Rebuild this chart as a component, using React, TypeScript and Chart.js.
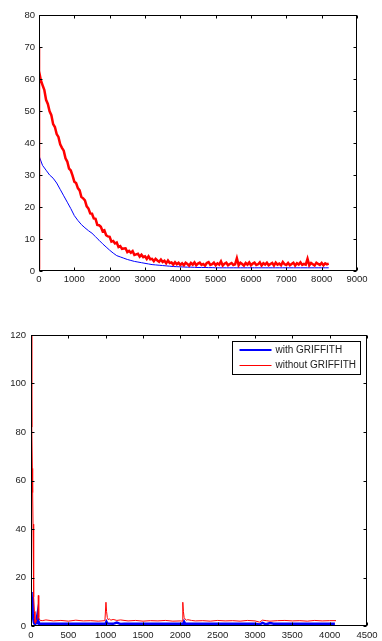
import React, { useEffect, useRef } from "react";
import { Chart, registerables } from "chart.js";

Chart.register(...registerables);

// ---------- DATA ----------
// Top chart: red sampled every RED_STEP, blue every BLUE_STEP iterations
const RED_STEP = 50;
const BLUE_STEP = 100;
const topRedStartX = [0, 0];
const topRedStartY = [0.5, 70];
const topRed = [
  62.5, 59.7, 58.1, 56.6, 53.5, 52.2, 49.9, 48.7, 45.9, 45.0,
  42.8, 41.9, 39.6, 38.5, 37.6, 35.2, 34.2, 32.0, 31.4, 29.8,
  27.9, 27.5, 25.9, 25.2, 23.1, 22.7, 22.1, 20.2, 19.5, 18.0,
  17.9, 16.4, 16.3, 14.4, 14.3, 13.8, 12.4, 12.7, 11.2, 10.8,
  10.7, 9.2, 9.4, 8.6, 8.9, 7.5, 7.8, 6.9, 7.0, 7.1,
  5.9, 6.3, 5.7, 6.2, 5.0, 5.2, 5.4, 4.5, 5.1, 4.35,
  4.6, 3.75, 4.6, 3.65, 3.8, 3.05, 3.8, 3.3, 2.9, 3.6,
  2.8, 3.2, 2.4, 3.3, 2.5, 2.7, 2.0, 2.75, 2.1, 2.55,
  1.9,
  2.4, 1.8, 2.6, 2.2, 1.7, 2.5, 2.0, 2.7, 1.8, 2.3,
  2.6, 1.9, 2.2, 1.7, 2.5, 2.8, 1.9, 2.1, 2.6, 1.8,
  2.4, 2.0, 3.0, 1.7, 2.3, 2.6, 1.8, 2.2, 2.5, 1.9,
  2.1, 4.0, 1.8, 2.6, 2.2, 1.7, 2.5, 2.0, 2.7, 1.8,
  2.3, 2.6, 1.9, 2.1, 2.7, 1.7, 2.4, 2.0, 2.6, 1.8,
  2.2, 2.5, 1.7, 2.6, 2.0, 2.3, 1.8, 2.8, 2.1, 1.9,
  2.5, 1.8, 2.2, 2.6, 1.7, 2.4, 2.0, 2.7, 1.9, 2.2,
  2.0, 3.8, 1.8, 2.5, 2.1, 1.7, 2.6, 2.2, 1.9, 2.5,
  1.8, 2.4, 2.1, 2.3,
];
const topBlueStartX = [0];
const topBlueStartY = [1];
const topBlue = [
  36, 33, 31.5, 30, 29, 27.5, 25.5, 23.5, 21.5, 19.5,
  17.3, 15.8, 14.5, 13.5, 12.6, 11.8, 10.7, 9.6, 8.5, 7.5,
  6.5, 5.6, 4.8, 4.4, 4.0, 3.6, 3.3, 3.0, 2.8, 2.6,
  2.4, 2.2, 2.0, 1.9, 1.8, 1.7, 1.6, 1.5, 1.4, 1.35,
  1.3, 1.25, 1.2, 1.2, 1.15, 1.1, 1.1, 1.1, 1.05, 1.05,
  1.0, 1.0, 1.0, 1.0, 1.0, 1.0, 1.0, 1.0, 1.0, 1.0,
  1.0, 1.0, 1.0, 1.0, 1.0, 1.0, 1.0, 1.0, 1.0, 1.0,
  1.0, 1.0, 1.0, 1.0, 1.0, 1.0, 1.0, 1.0, 1.0, 1.0,
  1.0, 1.0, 1.0,
];
const topXTicks = [0, 1000, 2000, 3000, 4000, 5000, 6000, 7000, 8000, 9000];
const topYTicks = [0, 10, 20, 30, 40, 50, 60, 70, 80];

// Bottom chart
const botRedX = [
  0, 8, 13, 18, 22, 27, 31, 36, 40, 46,
  53, 60, 75, 92, 98, 104, 115, 150, 200, 300,
  400, 500, 600, 700, 800, 900, 990, 1004, 1012, 1022,
  1035, 1050, 1070, 1100, 1150, 1200, 1300, 1400, 1500, 1600,
  1700, 1800, 1900, 2000, 2025, 2033, 2041, 2051, 2065, 2080,
  2100, 2150, 2200, 2300, 2400, 2500, 2600, 2700, 2800, 2900,
  3000, 3060, 3100, 3150, 3200, 3300, 3400, 3500, 3600, 3700,
  3800, 3900, 4000, 4085,
];
const botRed = [
  120, 100, 82, 65, 55, 42, 31, 20, 12, 6,
  1.5, 1, 2.5, 3, 12.6, 3.5, 2.4, 2.2, 2.5, 2.1,
  2.3, 2.0, 2.4, 2.1, 2.2, 2.0, 2.2, 9.8, 6, 3.5,
  2.6, 2.9, 2.4, 2.7, 2.3, 2.5, 2.1, 2.3, 2.0, 2.2,
  2.1, 2.3, 2.0, 2.1, 2.0, 9.8, 6, 3.5, 2.8, 2.4,
  2.6, 2.3, 2.1, 2.2, 2.0, 2.3, 2.1, 2.2, 2.0, 2.3,
  2.1, 1.6, 2.4, 2.2, 2.0, 2.2, 2.3, 2.1, 2.2, 2.0,
  2.3, 2.1, 2.2, 2.2,
];
const botBlueX = [
  0, 5, 10, 15, 20, 25, 30, 38, 45, 55,
  70, 80, 88, 95, 105, 120, 200, 400, 600, 800,
  1000, 1010, 1025, 1100, 1150, 1200, 1250, 1400, 1600, 1800,
  2000, 2040, 2050, 2065, 2200, 2400, 2600, 2800, 3000, 3060,
  3100, 3150, 3200, 3250, 3400, 3600, 3800, 4000, 4070,
];
const botBlue = [
  14, 11, 13, 9, 12, 5, 3, 1.5, 1, 0.8,
  1.2, 3.5, 5, 2, 1, 0.9, 0.9, 0.9, 0.9, 0.9,
  0.9, 1.8, 1, 0.9, 1.4, 0.8, 0.9, 0.9, 0.9, 0.9,
  0.9, 0.9, 1.8, 0.9, 0.9, 0.9, 0.9, 0.9, 0.9, 0.6,
  1.3, 0.7, 1.2, 0.9, 0.9, 0.9, 0.9, 0.9, 0.9,
];
const botXTicks = [0, 500, 1000, 1500, 2000, 2500, 3000, 3500, 4000, 4500];
const botYTicks = [0, 20, 40, 60, 80, 100, 120];

const legendLabels = ["with GRIFFITH", "without GRIFFITH"];

// ---------- HELPERS ----------
const FONT = "'Liberation Sans', Arial, Helvetica, sans-serif";
const TICK_COLOR = "#222";
const TICK_LEN = 3;
const RED = "#ff0000";
const BLUE = "#0000ff";

const matlabAxes = {
  id: "matlabAxes",
  afterDraw(chart: any) {
    const { ctx, chartArea } = chart;
    const l = Math.round(chartArea.left) + 0.5;
    const r = Math.round(chartArea.right) - 0.5;
    const t = Math.round(chartArea.top) + 0.5;
    const b = Math.round(chartArea.bottom) - 0.5;
    ctx.save();
    ctx.strokeStyle = "#000";
    ctx.lineWidth = 1;
    ctx.beginPath();
    const xs = chart.scales.x;
    xs.ticks.forEach((tk: any) => {
      const px = Math.round(xs.getPixelForValue(tk.value)) + 0.5;
      ctx.moveTo(px, b);
      ctx.lineTo(px, b - TICK_LEN);
      ctx.moveTo(px, t);
      ctx.lineTo(px, t + TICK_LEN);
    });
    const ys = chart.scales.y;
    ys.ticks.forEach((tk: any) => {
      const py = Math.round(ys.getPixelForValue(tk.value)) + 0.5;
      ctx.moveTo(l, py);
      ctx.lineTo(l + TICK_LEN, py);
      ctx.moveTo(r, py);
      ctx.lineTo(r - TICK_LEN, py);
    });
    ctx.stroke();
    ctx.strokeRect(l, t, r - l, b - t);
    ctx.restore();
  },
};

function makeBoxLegend(items: { label: string; color: string; width: number }[]) {
  return {
    id: "boxLegend",
    afterDraw(chart: any) {
      const { ctx, chartArea } = chart;
      const w = 128;
      const h = 33;
      const right = Math.round(chartArea.right) - 6.5;
      const left = right - w;
      const top = Math.round(chartArea.top) + 6.5;
      ctx.save();
      ctx.fillStyle = "#fff";
      ctx.fillRect(left, top, w, h);
      ctx.strokeStyle = "#000";
      ctx.lineWidth = 1;
      ctx.strokeRect(left, top, w, h);
      ctx.font = `10px ${FONT}`;
      ctx.textBaseline = "middle";
      ctx.textAlign = "left";
      items.forEach((it, i) => {
        const y = Math.round(top + 8 + i * 15) + (it.width % 2 ? 0.5 : 0);
        ctx.strokeStyle = it.color;
        ctx.lineWidth = it.width;
        ctx.beginPath();
        ctx.moveTo(left + 7, y);
        ctx.lineTo(left + 39, y);
        ctx.stroke();
        ctx.fillStyle = TICK_COLOR;
        ctx.fillText(it.label, left + 43, y);
      });
      ctx.restore();
    },
  };
}

function makeScale(ticks: number[], fitKey: "width" | "height", fitVal: number, padding: number) {
  return {
    type: "linear" as const,
    min: ticks[0],
    max: ticks[ticks.length - 1],
    grid: { display: false, drawTicks: false },
    border: { display: false },
    ticks: {
      stepSize: ticks[1] - ticks[0],
      color: TICK_COLOR,
      font: { size: 9.5, family: FONT },
      padding,
      maxRotation: 0,
      autoSkip: false,
      callback: (v: any) => String(v),
    },
    afterFit: (s: any) => {
      s[fitKey] = fitVal;
    },
  };
}

function ChartCanvas({ top, width, height, build }: { top: number; width: number; height: number; build: () => any }) {
  const ref = useRef<HTMLCanvasElement | null>(null);
  useEffect(() => {
    if (!ref.current) return;
    const chart = new Chart(ref.current, build());
    return () => chart.destroy();
  }, []);
  return (
    <canvas
      ref={ref}
      width={width}
      height={height}
      style={{ position: "absolute", left: 0, top, width, height, display: "block" }}
    />
  );
}

function buildTop() {
  const redPts = [
    ...topRedStartX.map((x, i) => ({ x, y: topRedStartY[i] })),
    ...topRed.map((y, i) => ({ x: i * RED_STEP, y })),
  ];
  const bluePts = [
    ...topBlueStartX.map((x, i) => ({ x, y: topBlueStartY[i] })),
    ...topBlue.map((y, i) => ({ x: i * BLUE_STEP, y })),
  ];
  return {
    type: "line",
    data: {
      datasets: [
        { label: "red", data: redPts, borderColor: RED, borderWidth: 2.5, pointRadius: 0, tension: 0 },
        { label: "blue", data: bluePts, borderColor: BLUE, borderWidth: 1, pointRadius: 0, tension: 0 },
      ],
    },
    options: {
      responsive: false,
      animation: false,
      events: [],
      devicePixelRatio: 1,
      layout: { padding: { left: 0, top: 15, right: 25, bottom: 0 } },
      plugins: { legend: { display: false }, tooltip: { enabled: false } },
      scales: {
        x: makeScale(topXTicks, "height", 29, 3),
        y: makeScale(topYTicks, "width", 39, 4),
      },
    },
    plugins: [matlabAxes],
  };
}

function buildBottom() {
  const redPts = botRedX.map((x, i) => ({ x, y: botRed[i] }));
  const bluePts = botBlueX.map((x, i) => ({ x, y: botBlue[i] }));
  return {
    type: "line",
    data: {
      datasets: [
        { label: legendLabels[1], data: redPts, borderColor: RED, borderWidth: 1, pointRadius: 0, tension: 0 },
        { label: legendLabels[0], data: bluePts, borderColor: BLUE, borderWidth: 2.5, pointRadius: 0, tension: 0 },
      ],
    },
    options: {
      responsive: false,
      animation: false,
      events: [],
      devicePixelRatio: 1,
      layout: { padding: { left: 0, top: 15, right: 15, bottom: 0 } },
      plugins: { legend: { display: false }, tooltip: { enabled: false } },
      scales: {
        x: makeScale(botXTicks, "height", 15, 4),
        y: makeScale(botYTicks, "width", 31, 5),
      },
    },
    plugins: [
      matlabAxes,
      makeBoxLegend([
        { label: legendLabels[0], color: BLUE, width: 2 },
        { label: legendLabels[1], color: RED, width: 1 },
      ]),
    ],
  };
}

export default function App() {
  return (
    <div style={{ position: "absolute", left: 0, top: 0, width: 382, height: 641, background: "#fff", overflow: "hidden" }}>
      <ChartCanvas top={0} width={382} height={300} build={buildTop} />
      <ChartCanvas top={320} width={382} height={321} build={buildBottom} />
    </div>
  );
}
